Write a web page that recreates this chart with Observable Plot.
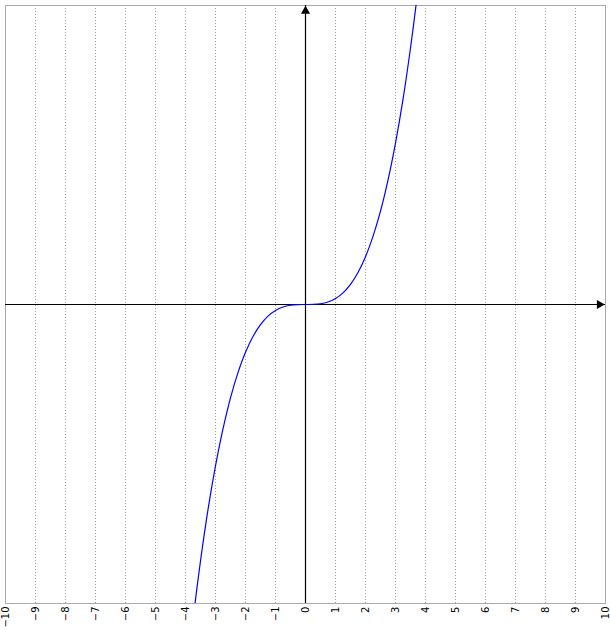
<!DOCTYPE html>
<html>
<head>
<meta charset="utf-8">
<script src="https://cdn.jsdelivr.net/npm/d3@7"></script>
<script src="https://cdn.jsdelivr.net/npm/@observablehq/plot@0.6"></script>
<style>
  html, body { margin: 0; padding: 0; background: #fff; }
</style>
</head>
<body>
<div id="chart"></div>
<script>
// Tick labels along x
const xTicks = [-10, -9, -8, -7, -6, -5, -4, -3, -2, -1, 0, 1, 2, 3, 4, 5, 6, 7, 8, 9, 10];
// Dotted vertical grid positions
const gridX = [-9, -8, -7, -6, -5, -4, -3, -2, -1, 1, 2, 3, 4, 5, 6, 7, 8, 9];
// Curve
const curveX = [-3.9, -3.75, -3.5, -3.25, -3, -2.75, -2.5, -2.25, -2, -1.75, -1.5, -1.25, -1, -0.75, -0.5, -0.25, 0,
                0.25, 0.5, 0.75, 1, 1.25, 1.5, 1.75, 2, 2.25, 2.5, 2.75, 3, 3.25, 3.5, 3.75, 3.9];
const curveY = [-59.3, -52.7, -42.9, -34.3, -27, -20.8, -15.6, -11.4, -8, -5.36, -3.38, -1.95, -1, -0.42, -0.125, -0.016, 0,
                0.016, 0.125, 0.42, 1, 1.95, 3.38, 5.36, 8, 11.4, 15.6, 20.8, 27, 34.3, 42.9, 52.7, 59.3];
const xDomain = [-10, 10];
const yDomain = [-50, 50];

const curve = curveX.map((x, i) => ({x, y: curveY[i]}));

const chart = Plot.plot({
  width: 610,
  height: 633,
  marginLeft: 5,
  marginRight: 5,
  marginTop: 5,
  marginBottom: 30,
  style: {fontFamily: "DejaVu Sans", fontSize: "10px", background: "#fff", color: "#000"},
  x: {domain: xDomain},
  y: {domain: yDomain, axis: null},
  marks: [
    Plot.ruleX(gridX, {stroke: "#a0a0a0", strokeDasharray: "1,2", strokeWidth: 1}),
    Plot.frame({stroke: "#aaaaaa", strokeWidth: 1}),
    Plot.ruleY([0], {stroke: "#000", strokeWidth: 1.2}),
    Plot.ruleX([0], {stroke: "#000", strokeWidth: 1.2}),
    Plot.dot([{x: 0, y: yDomain[1]}], {x: "x", y: "y", symbol: "triangle", r: 3.4, fill: "#000", stroke: "none", dy: 5.5}),
    Plot.dot([{x: xDomain[1], y: 0}], {x: "x", y: "y", symbol: "triangle", r: 3.4, fill: "#000", stroke: "none", rotate: 90, dx: -6}),
    Plot.line(curve, {x: "x", y: "y", stroke: "#0000ff", strokeWidth: 1.2, curve: "catmull-rom", clip: true}),
    Plot.axisX({ticks: xTicks, tickSize: 0, tickPadding: 3, tickRotate: -90, fill: "#000", label: null})
  ]
});
document.getElementById("chart").appendChild(chart);
</script>
</body>
</html>
